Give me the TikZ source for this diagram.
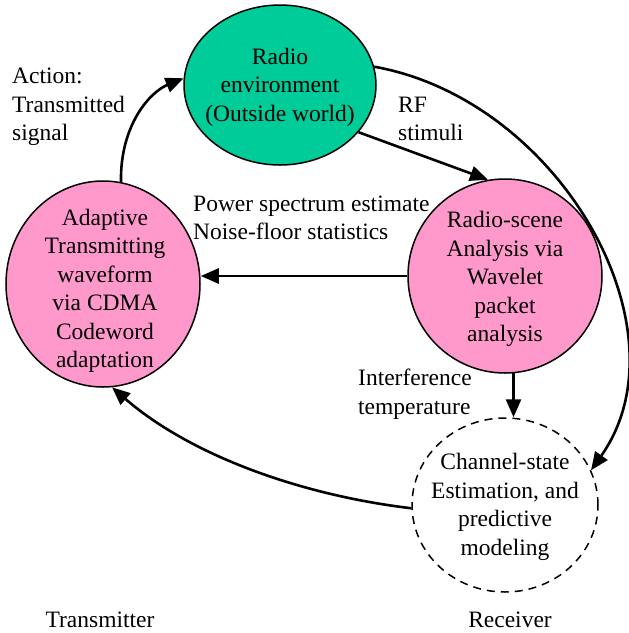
\documentclass[tikz,border=0pt]{standalone}
\usepackage{fontspec}
\setmainfont{Liberation Serif}
\usetikzlibrary{arrows.meta,shapes.geometric}
\definecolor{envgreen}{RGB}{0,204,153}
\definecolor{procpink}{RGB}{255,153,204}
\begin{document}
\begin{tikzpicture}[x=1pt,y=-1pt,
  txt/.style={font=\fontsize{23.5}{28.5}\selectfont, align=center, inner sep=0pt},
  lbl/.style={txt, align=left, anchor=west},
  blob/.style={ellipse, draw=black, line width=1.5pt, inner sep=0pt},
  conn/.style={line width=2.6pt, -{Triangle[length=18pt,width=15pt]}}
]
\useasboundingbox (0,0) rectangle (629,633);
% shapes
\node[blob, fill=envgreen, minimum width=192pt, minimum height=160pt] (env) at (280,85) {};
\node[blob, fill=procpink, minimum width=194pt, minimum height=194pt] (scene) at (505,276) {};
\node[blob, fill=procpink, minimum width=194pt, minimum height=206pt] (adapt) at (103,284) {};
\node[blob, dash pattern=on 8pt off 6pt, minimum width=186pt, minimum height=174pt] (chan) at (505,505) {};
% texts in shapes
\node[txt] (envt) at (280,87) {Radio\\environment\\(Outside world)};
\node[txt] (scenet) at (505,279) {Radio-scene\\Analysis via\\Wavelet\\packet\\analysis};
\node[txt] (adaptt) at (105,291) {Adaptive\\Transmitting\\waveform\\via CDMA\\Codeword\\adaptation};
\node[txt] (chant) at (505,507) {Channel-state\\Estimation, and\\predictive\\modeling};
% labels
\node[lbl] (action) at (12,107) {Action:\\Transmitted\\signal};
\node[lbl] (rf) at (398,119) {RF\\stimuli};
\node[lbl] (power) at (193,218) {Power spectrum estimate\\Noise-floor statistics};
\node[lbl] (interf) at (358,394) {Interference\\temperature};
\node[txt] (tx) at (100,620) {Transmitter};
\node[txt] (rx) at (510,620) {Receiver};
% connectors
\draw[conn] (adapt.80) .. controls (120,125) and (150,92) .. (env.176);
\draw[conn] (env.-31) -- (scene.100);
\draw[conn] (env.11) .. controls (560,100) and (690,330) .. (chan.22);
\draw[conn] (scene.west) -- (scene.west -| adapt.east);
\draw[conn] (scene.-85) -- (scene.-85 |- chan.north);
\draw[conn] (chan.182) .. controls (300,495) and (190,455) .. (adapt.-85);
\end{tikzpicture}
\end{document}
